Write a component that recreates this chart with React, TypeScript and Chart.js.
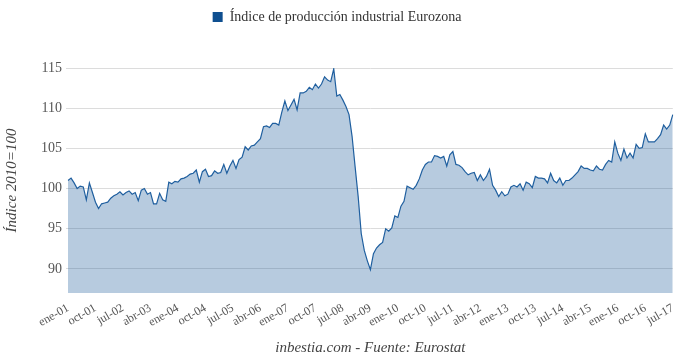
import React, { useEffect, useRef } from "react";
import { Chart, registerables } from "chart.js";

Chart.register(...registerables);

const MONTHS = ["ene", "feb", "mar", "abr", "may", "jun", "jul", "ago", "sep", "oct", "nov", "dic"];
const START_YEAR = 1; // 2001

// Índice de producción industrial Eurozona, mensual, ene-01 .. jul-17
const INDEX_VALUES = [
  101.0, 101.3, 100.7, 100.0, 100.3, 100.2, 98.6, 100.7, 99.5, 98.3, 97.5, 98.1,
  98.2, 98.3, 98.8, 99.1, 99.3, 99.6, 99.2, 99.5, 99.7, 99.3, 99.5, 98.5,
  99.8, 100.0, 99.3, 99.5, 98.1, 98.1, 99.4, 98.6, 98.4, 100.8, 100.6, 100.9,
  100.8, 101.2, 101.3, 101.5, 101.8, 101.9, 102.3, 100.8, 102.1, 102.4, 101.5, 101.6,
  102.2, 101.9, 102.0, 103.0, 101.9, 102.8, 103.5, 102.5, 103.6, 103.9, 105.2, 104.8,
  105.3, 105.4, 105.8, 106.2, 107.7, 107.8, 107.6, 108.1, 108.1, 107.9, 109.5, 110.9,
  109.7, 110.4, 111.1, 109.8, 111.9, 111.9, 112.1, 112.6, 112.3, 113.0, 112.5, 113.0,
  113.9, 113.5, 113.3, 114.9, 111.5, 111.7, 111.0, 110.2, 109.2, 106.5, 102.7, 99.0,
  94.4, 92.3, 91.0, 89.9, 91.9, 92.6, 93.0, 93.3, 95.0, 94.7, 95.1, 96.6,
  96.4, 97.8, 98.4, 100.3, 100.1, 99.9, 100.4, 101.2, 102.3, 103.0, 103.3, 103.3,
  104.1, 104.0, 103.8, 104.0, 102.8, 104.2, 104.6, 103.0, 102.9, 102.6, 102.1, 101.7,
  101.9, 102.0, 101.0, 101.7, 101.0, 101.5, 102.4, 100.4, 99.8, 99.0, 99.6, 99.1,
  99.3, 100.2, 100.4, 100.2, 100.6, 99.8, 100.8, 100.6, 100.1, 101.5, 101.3, 101.3,
  101.2, 100.7, 101.9, 101.0, 100.7, 101.3, 100.4, 101.0, 101.0, 101.3, 101.7, 102.1,
  102.8, 102.5, 102.5, 102.3, 102.2, 102.8, 102.4, 102.3, 103.0, 103.5, 103.3, 105.8,
  104.4, 103.5, 104.9, 103.8, 104.4, 103.8, 105.5, 105.0, 105.1, 106.8, 105.8, 105.8,
  105.8, 106.2, 106.7, 107.9, 107.4, 107.9, 109.2,
];

const Y_TICKS = [90, 95, 100, 105, 110, 115];
const TICK_EVERY = 9; // ene-01, oct-01, jul-02, ...

const SERIES_NAME = "Índice de producción industrial Eurozona";
const Y_TITLE = "Índice 2010=100";
const FOOTER = "inbestia.com - Fuente: Eurostat";

const LABELS = INDEX_VALUES.map(
  (_, i) => `${MONTHS[i % 12]}-${String(START_YEAR + Math.floor(i / 12)).padStart(2, "0")}`
);

const FONT = "'Liberation Serif', 'Times New Roman', serif";

const legendSpacer = {
  id: "legendSpacer",
  beforeInit(chart: any) {
    const orig = chart.legend.fit;
    chart.legend.fit = function () {
      orig.call(this);
      this.height += 34;
    };
  },
};

export default function App() {
  const ref = useRef<HTMLCanvasElement | null>(null);

  useEffect(() => {
    if (!ref.current) return;
    const chart = new Chart(ref.current, {
      type: "line",
      data: {
        labels: LABELS,
        datasets: [
          {
            label: SERIES_NAME,
            data: INDEX_VALUES,
            borderColor: "#1f5f9f",
            borderWidth: 1.2,
            backgroundColor: "rgba(24,88,152,0.31)",
            fill: "start",
            pointRadius: 0,
            tension: 0,
          },
        ],
      },
      plugins: [legendSpacer],
      options: {
        responsive: false,
        animation: false,
        layout: { padding: { top: 0, right: 6, bottom: 0, left: 0 } },
        plugins: {
          legend: {
            position: "top",
            labels: {
              font: { family: FONT, size: 14 },
              color: "#333333",
              boxWidth: 10,
              boxHeight: 10,
              padding: 10,
              generateLabels: (c: any) => {
                const items = Chart.defaults.plugins.legend.labels.generateLabels(c);
                return items.map((it: any) => ({
                  ...it,
                  fillStyle: "#0f4f90",
                  strokeStyle: "#0f4f90",
                  lineWidth: 0,
                }));
              },
            },
          },
          tooltip: { enabled: false },
        },
        scales: {
          x: {
            type: "category",
            grid: { display: false },
            border: { display: false },
            ticks: {
              autoSkip: false,
              minRotation: 30,
              maxRotation: 30,
              padding: 0,
              color: "#555555",
              font: { family: FONT, size: 12 },
              callback: (_v: any, i: number) => (i % TICK_EVERY === 0 ? LABELS[i] : ""),
            },
            title: {
              display: true,
              text: FOOTER,
              color: "#444444",
              font: { family: FONT, size: 15, style: "italic" },
              padding: { top: 0, bottom: 5 },
            },
            afterFit: (s: any) => {
              s.height = 69;
            },
          },
          y: {
            min: 87,
            max: 115,
            grid: { color: "#dcdcdc", lineWidth: 1, tickLength: 2 },
            border: { display: false },
            ticks: {
              padding: 4,
              color: "#555555",
              font: { family: FONT, size: 14 },
            },
            afterBuildTicks: (s: any) => {
              s.ticks = Y_TICKS.map((v) => ({ value: v }));
            },
            title: {
              display: true,
              text: Y_TITLE,
              color: "#444444",
              font: { family: FONT, size: 15, style: "italic" },
              padding: { top: 3, bottom: 0 },
            },
            afterFit: (s: any) => {
              s.width = 68;
            },
          },
        },
      },
    });
    return () => chart.destroy();
  }, []);

  return (
    <div style={{ position: "fixed", left: 0, top: 0, width: 680, height: 362, background: "#fff" }}>
      <canvas ref={ref} width={680} height={362} style={{ display: "block" }} />
    </div>
  );
}
